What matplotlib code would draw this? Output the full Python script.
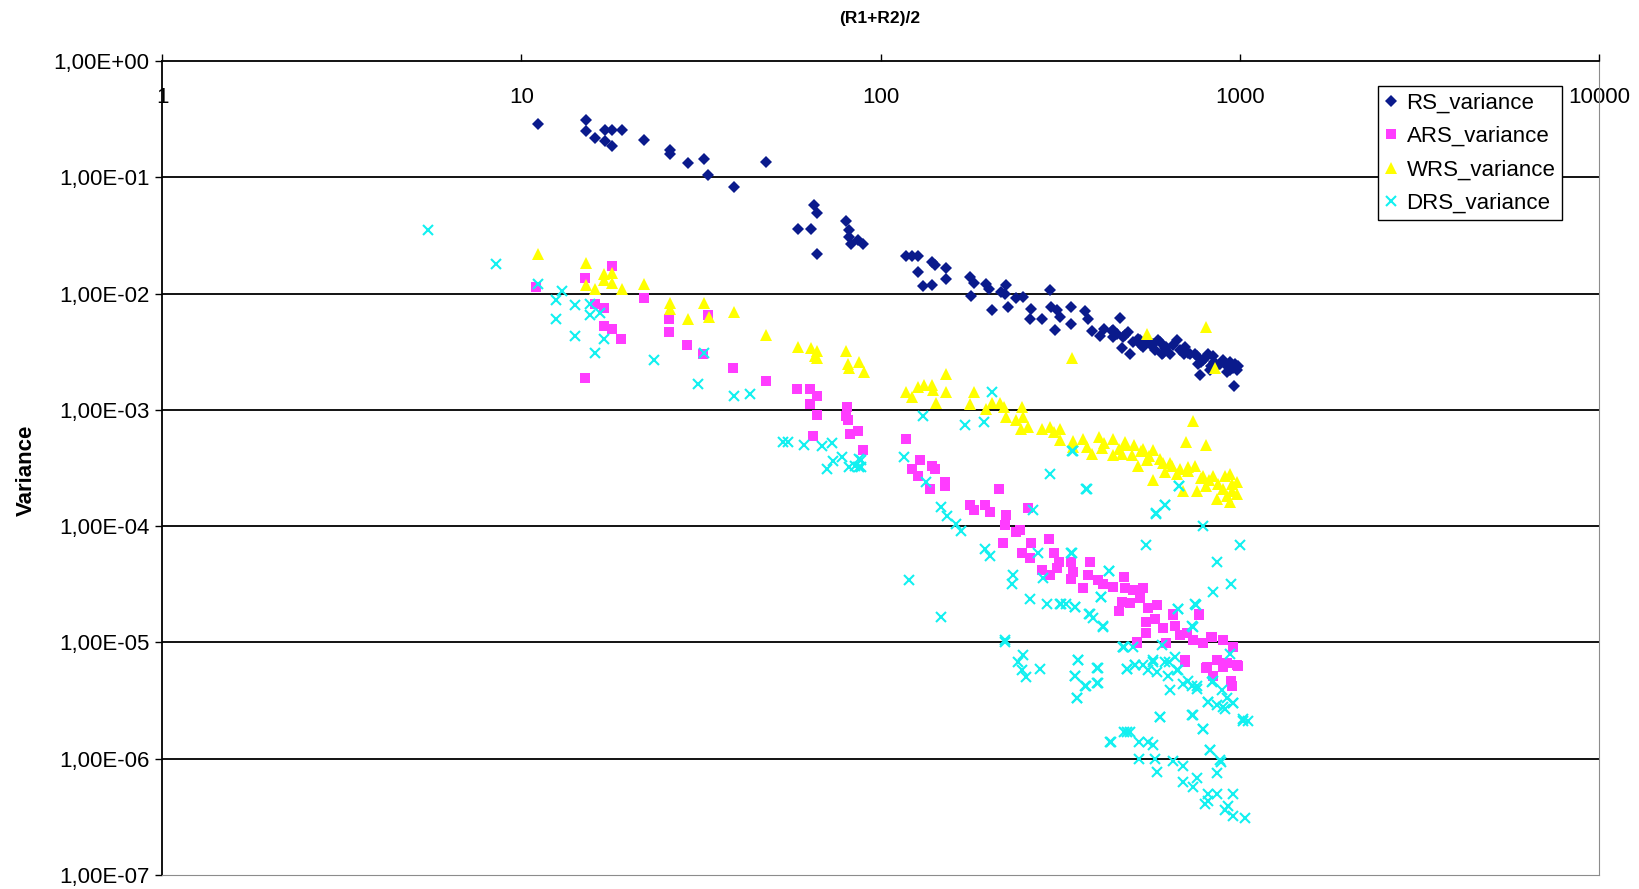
import math
import matplotlib
matplotlib.use("Agg")
import matplotlib.pyplot as plt
from matplotlib.ticker import FixedLocator, FuncFormatter, NullLocator

plt.rcParams['font.family'] = ['Liberation Sans', 'DejaVu Sans']

# ---------------- data ----------------
rs_x = [11.1, 15.1, 15.1, 16.0, 17.1, 17.1, 17.9, 17.9, 19.1, 22, 26, 26, 29.1, 32.2, 33.2,
        39.2, 48, 65.2, 66.6, 59, 64, 66.6, 80, 81.6, 81.6, 82.7, 86.5, 89.5,
        118, 122, 127, 127, 139, 142, 152, 152, 131, 139, 177, 182, 179, 197, 201, 217,
        223, 222, 205, 227, 239, 250, 263, 260, 281, 296, 299, 309, 316, 306, 340, 340,
        371, 379, 387, 408, 445, 445, 464, 474, 490, 469, 494, 505, 528, 539, 562, 581,
        593, 606, 625, 639, 667, 681, 703, 726, 750, 767, 775, 791, 818, 826, 844, 862,
        900, 919, 939, 959, 980, 963, 991,
        455, 480, 520, 550, 575, 600, 620, 650, 690, 720, 760, 800, 850, 880, 920, 940,
        970, 530, 610, 700, 780, 830, 420, 440]
rs_y = [0.29, 0.31, 0.25, 0.218, 0.257, 0.205, 0.257, 0.186, 0.257, 0.21, 0.17, 0.16, 0.133,
        0.145, 0.105, 0.083, 0.136, 0.058, 0.049, 0.036, 0.036, 0.022, 0.042, 0.0355, 0.0307,
        0.0265, 0.0287, 0.0265,
        0.0209, 0.0209, 0.0209, 0.0153, 0.0187, 0.0175, 0.0167, 0.0134, 0.0116, 0.0118,
        0.0139, 0.0124, 0.0095, 0.0122, 0.0110, 0.0103, 0.0118, 0.0099, 0.0072, 0.0077,
        0.0091, 0.0094, 0.0074, 0.0060, 0.0060, 0.0107, 0.0077, 0.0072, 0.0063, 0.0049,
        0.0077, 0.0055, 0.0071, 0.0061, 0.0048, 0.0043, 0.0049, 0.0042, 0.0062, 0.0042,
        0.0047, 0.0034, 0.0030, 0.0038, 0.0040, 0.0035, 0.0037, 0.0033, 0.0040, 0.0030,
        0.0035, 0.0030, 0.0040, 0.0033, 0.0035, 0.0030, 0.0030, 0.0025, 0.0020, 0.0027,
        0.0030, 0.0022, 0.0029, 0.0024, 0.0027, 0.0021, 0.0026, 0.0023, 0.0022, 0.0016,
        0.0024,
        0.0045, 0.0044, 0.0041, 0.0040, 0.0037, 0.0038, 0.0034, 0.0036, 0.0032, 0.0031,
        0.0029, 0.0028, 0.0026, 0.0025, 0.0024, 0.0022, 0.0025, 0.0036, 0.0031, 0.0030,
        0.0026, 0.0024, 0.0050, 0.0048]

ars_x = [11.0, 15.0, 15.0, 17.9, 16.0, 17.0, 17.0, 17.9, 19.0, 22.0, 25.8, 25.8, 28.9, 33.1,
         32.1, 38.9, 47.9, 58.7, 63.8, 66.4, 63.8, 66.4, 65, 80.9, 80, 81.3, 82.2, 86.7, 89.5,
         118, 129, 122, 127, 139, 142, 137, 151, 151, 214, 177, 182, 195, 202, 224, 222,
         239, 244, 219, 262, 258, 295, 247, 261, 304, 313, 309, 281, 296, 340, 343, 340,
         384, 379, 367, 403, 415, 444, 476, 479, 505, 539, 469, 494, 462, 528, 556, 587,
         550, 580, 613, 653, 661, 771, 681, 711, 743, 791, 835, 900, 959, 703, 809, 862,
         919, 980, 516, 550, 625,
         703, 808, 843, 899, 948, 954, 986, 959, 899, 834, 771, 653, 516]
ars_y = [0.0114, 0.0137, 0.00188, 0.0172, 0.0082, 0.0075, 0.0053, 0.0050, 0.0041, 0.0091,
         0.0060, 0.0047, 0.0036, 0.0066, 0.0030, 0.0023, 0.00176, 0.00150, 0.00150, 0.00132,
         0.00113, 0.00090, 0.00060, 0.00106, 0.00089, 0.00081, 0.00062, 0.00066, 0.00045,
         0.00056, 0.00037, 0.00031, 0.00027, 0.00033, 0.00031, 0.00021, 0.00024, 0.00022,
         0.00021, 0.000153, 0.000137, 0.000153, 0.000133, 0.000124, 0.000102, 8.93e-5,
         9.24e-5, 7.19e-5, 7.19e-5, 0.000142, 7.69e-5, 5.90e-5, 5.28e-5, 5.82e-5, 4.94e-5,
         4.33e-5, 4.19e-5, 3.79e-5, 4.94e-5, 4.05e-5, 3.48e-5, 4.94e-5, 3.79e-5, 2.91e-5,
         3.44e-5, 3.18e-5, 3.01e-5, 3.67e-5, 2.91e-5, 2.82e-5, 2.91e-5, 2.24e-5, 2.19e-5,
         1.87e-5, 2.39e-5, 1.96e-5, 2.09e-5, 1.51e-5, 1.58e-5, 1.32e-5, 1.72e-5, 1.38e-5,
         1.72e-5, 1.16e-5, 1.20e-5, 1.05e-5, 9.8e-6, 1.12e-5, 1.05e-5, 9.2e-6, 7.0e-6,
         6.2e-6, 7.0e-6, 6.6e-6, 6.4e-6, 1.01e-5, 1.20e-5, 9.8e-6,
         6.8e-6, 6.0e-6, 5.1e-6, 6.2e-6, 4.7e-6, 4.2e-6, 6.3e-6, 9.2e-6, 1.05e-5, 1.12e-5,
         1.74e-5, 1.74e-5, 9.9e-6]

wrs_x = [11.1, 15.1, 15.1, 16.0, 17.0, 17.9, 17.0, 17.9, 19.1, 22.0, 26.0, 26.0, 29.1, 32.2,
         33.3, 39.2, 48, 59, 64.2, 66.4, 65.8, 66.6, 80.1, 81.3, 81.6, 87.2, 89.9,
         118, 122, 127, 132, 139, 140, 152, 152, 143, 182, 178, 197, 204, 215, 221, 248,
         224, 238, 250, 258, 246, 281, 296, 304, 316, 315, 343, 343, 367, 375, 387, 407,
         414, 445, 445, 479, 469, 507, 500, 522, 539, 551, 575, 575, 613, 619, 646, 667,
         696, 719, 750, 758, 791, 844, 862, 808, 909, 939, 949, 980, 939, 919, 742, 707,
         808, 808, 552, 853, 341,
         480, 530, 560, 600, 640, 680, 720, 780, 820, 870, 900, 950, 980, 460, 420]
wrs_y = [0.0221, 0.0183, 0.0118, 0.0110, 0.0146, 0.0149, 0.0132, 0.0124, 0.0110, 0.0122,
         0.0083, 0.0074, 0.0060, 0.0083, 0.0063, 0.0069, 0.0044, 0.0035, 0.0034, 0.0032,
         0.0029, 0.0028, 0.0032, 0.0025, 0.0023, 0.0026, 0.0021,
         0.00143, 0.00129, 0.00158, 0.00163, 0.00163, 0.00148, 0.00205, 0.00143, 0.00115,
         0.00143, 0.00112, 0.00101, 0.00115, 0.00115, 0.00106, 0.00105, 0.00087, 0.00081,
         0.00086, 0.00071, 0.00069, 0.00069, 0.00071, 0.00065, 0.00069, 0.00055, 0.00054,
         0.00048, 0.00056, 0.00048, 0.00042, 0.00059, 0.00047, 0.00056, 0.00041, 0.00053,
         0.00042, 0.00050, 0.00041, 0.00033, 0.00046, 0.00037, 0.00045, 0.00025, 0.00035,
         0.00029, 0.00033, 0.00028, 0.00020, 0.00032, 0.00033, 0.00020, 0.00027, 0.00027,
         0.00017, 0.00022, 0.00027, 0.00028, 0.00023, 0.00024, 0.00016, 0.00018, 0.00080,
         0.00053, 0.00050, 0.0052, 0.0045, 0.0023, 0.0028,
         0.00050, 0.00044, 0.00040, 0.00038, 0.00035, 0.00031, 0.00030, 0.00026, 0.00025,
         0.00023, 0.00021, 0.00020, 0.00019, 0.00046, 0.00052]

drs_x = [5.5, 8.5, 11.1, 13.0, 12.5, 12.5, 14.1, 14.1, 15.5, 15.5, 16.6, 17.0, 16.0, 23.4,
         32.3, 31.0, 39.2, 43.4, 53.4, 55.1, 61.4, 68.6, 73.1, 78.0, 73.9, 70.9, 81.9, 87.3,
         88.5,
         205, 131, 172, 194, 343, 297, 375, 116, 87, 85, 88, 134, 147, 153, 162, 167, 195,
         202, 266, 275, 284, 234, 233, 261, 290, 317, 328, 347, 340, 410, 381, 391, 415,
         433, 548, 584, 619, 679, 791, 1000, 862, 843, 944, 755, 674, 739, 120, 147, 222,
         474, 505,
         222, 250, 242, 247, 254, 278, 355, 348, 371, 352, 401, 401, 476, 484, 510, 539,
         556, 574, 587, 606, 637, 633, 639, 661, 675, 697, 735, 759, 743, 791, 818, 862,
         910, 919, 959, 835, 890, 940, 1024, 1056, 600, 437, 476, 494, 525, 556, 574, 525,
         580, 589, 650, 696, 696, 759, 743, 826, 885, 862, 818, 801, 818, 862, 955, 929,
         910, 955, 1032,
         374, 678, 583, 618, 342, 341, 433, 410, 750, 671, 738, 315, 347, 383, 415, 474,
         510, 486, 574, 618, 667, 718, 758, 843, 817, 899, 959, 355, 347, 404, 404, 352,
         373, 600, 738, 791, 1023, 435, 484, 826, 881]
drs_y = [0.035, 0.0181, 0.0120, 0.0105, 0.0088, 0.0061, 0.0079, 0.0043, 0.0082, 0.0066,
         0.0068, 0.0041, 0.0031, 0.0027, 0.0031, 0.00168, 0.00131, 0.00138, 0.00053, 0.00053,
         0.00050, 0.00049, 0.00052, 0.00039, 0.00036, 0.00031, 0.00032, 0.00032, 0.00037,
         0.00143, 0.00088, 0.00074, 0.00079, 0.00044, 0.00028, 0.00021, 0.00039, 0.00038,
         0.00033, 0.00032, 0.00024, 0.000147, 0.000122, 0.000104, 9.12e-5, 6.31e-5, 5.52e-5,
         0.000137, 5.82e-5, 3.55e-5, 3.79e-5, 3.18e-5, 2.34e-5, 2.14e-5, 2.14e-5, 2.14e-5,
         2.00e-5, 5.82e-5, 2.47e-5, 1.77e-5, 1.61e-5, 1.36e-5, 4.13e-5, 6.87e-5, 0.000129,
         0.000152, 0.000221, 0.000101, 6.87e-5, 4.94e-5, 2.73e-5, 3.21e-5, 2.09e-5, 1.92e-5,
         1.35e-5, 3.44e-5, 1.64e-5, 1.04e-5, 9.2e-6, 9.2e-6,
         1.01e-5, 7.8e-6, 6.8e-6, 5.8e-6, 5.0e-6, 5.9e-6, 7.0e-6, 5.1e-6, 4.2e-6, 3.3e-6,
         6.0e-6, 4.5e-6, 9.2e-6, 5.9e-6, 6.4e-6, 6.4e-6, 5.8e-6, 7.0e-6, 5.6e-6, 9.5e-6,
         6.8e-6, 5.1e-6, 3.9e-6, 7.5e-6, 5.8e-6, 4.4e-6, 4.2e-6, 4.0e-6, 2.4e-6, 1.8e-6,
         3.1e-6, 2.9e-6, 2.7e-6, 3.3e-6, 3.0e-6, 4.6e-6, 3.9e-6, 8.0e-6, 2.1e-6, 2.1e-6,
         2.3e-6, 1.4e-6, 1.7e-6, 1.7e-6, 1.4e-6, 1.4e-6, 1.3e-6, 1.0e-6, 1.0e-6, 7.7e-7,
         9.6e-7, 8.6e-7, 6.3e-7, 6.8e-7, 5.7e-7, 1.2e-6, 9.4e-7, 7.5e-7, 5.0e-7, 4.1e-7,
         4.3e-7, 5.0e-7, 5.0e-7, 3.9e-7, 3.6e-7, 3.2e-7, 3.1e-7,
         0.00021, 0.00022, 0.000128, 0.000151, 0.00044, 5.82e-5, 4.13e-5, 2.47e-5, 2.13e-5,
         1.93e-5, 1.38e-5, 2.13e-5, 2.0e-5, 1.77e-5, 1.38e-5, 9.2e-6, 6.4e-6, 5.9e-6, 6.8e-6,
         6.8e-6, 5.8e-6, 4.7e-6, 4.2e-6, 4.7e-6, 3.1e-6, 2.8e-6, 3.0e-6, 7.0e-6, 5.1e-6,
         6.0e-6, 4.5e-6, 3.3e-6, 4.2e-6, 2.3e-6, 2.4e-6, 1.8e-6, 2.2e-6, 1.4e-6, 1.7e-6,
         1.2e-6, 9.7e-7]

series_names = ["RS_variance", "ARS_variance", "WRS_variance", "DRS_variance"]
x_tick_values = [1, 10, 100, 1000, 10000]
x_tick_labels = ["1", "10", "100", "1000", "10000"]
y_exponents = [0, -1, -2, -3, -4, -5, -6, -7]

# ---------------- figure ----------------
W, H = 1639, 889
fig = plt.figure(figsize=(W / 100, H / 100), dpi=100)
ax = fig.add_axes([162 / W, 1 - 875 / H, (1599 - 162) / W, (875 - 61) / H])

ax.set_xscale('log')
ax.set_yscale('log')
ax.set_xlim(1, 10000)
ax.set_ylim(1e-7, 1)

# gridlines
for e in y_exponents[1:-1]:
    ax.axhline(10.0 ** e, color='black', lw=1.3, zorder=1)

ax.plot(rs_x, rs_y, linestyle='none', marker='D', markersize=6.2, color='#0A1A8C',
        markeredgewidth=0, label=series_names[0], zorder=3)
ax.plot(ars_x, ars_y, linestyle='none', marker='s', markersize=7, color='#FF3CFF',
        markeredgewidth=0, label=series_names[1], zorder=3)
ax.plot(wrs_x, wrs_y, linestyle='none', marker='^', markersize=8.5, color='#FFFF00',
        markeredgewidth=0, label=series_names[2], zorder=3)
ax.plot(drs_x, drs_y, linestyle='none', marker='x', markersize=7.6, color='#12F0F0',
        markeredgewidth=1.5, label=series_names[3], zorder=3)

# spines
ax.spines['left'].set_color('black')
ax.spines['top'].set_color('black')
ax.spines['left'].set_linewidth(1.3)
ax.spines['top'].set_linewidth(1.3)
ax.spines['right'].set_color('#8c8c8c')
ax.spines['bottom'].set_color('#8c8c8c')

# x axis at top, labels just below the line
ax.xaxis.set_major_locator(FixedLocator(x_tick_values))
ax.xaxis.set_minor_locator(NullLocator())
ax.set_xticklabels(x_tick_labels)
ax.tick_params(axis='x', which='both', top=True, bottom=False, labeltop=True,
               labelbottom=False, direction='out', length=5, width=1, pad=-39,
               labelsize=16, colors='black')

# y axis
ax.yaxis.set_major_locator(FixedLocator([10.0 ** e for e in y_exponents]))
ax.yaxis.set_minor_locator(NullLocator())
ax.yaxis.set_major_formatter(FuncFormatter(
    lambda v, p: "1,00E{:+03d}".format(int(round(math.log10(v))))))
ax.tick_params(axis='y', which='both', direction='out', length=5, width=1, pad=4,
               labelsize=16)

fig.text(880 / W, 1 - 19 / H, "(R1+R2)/2", ha='center', va='center',
         fontsize=12.5, fontweight='bold')
fig.text(26 / W, 1 - 470 / H, "Variance", ha='center', va='center', rotation=90,
         fontsize=16, fontweight='bold')

leg = ax.legend(loc='upper left', bbox_to_anchor=(0.846, 0.969), borderaxespad=0,
                fancybox=False, edgecolor='black', framealpha=1, fontsize=16,
                labelspacing=0.55, handlelength=0.6, handletextpad=0.4,
                borderpad=0.3, markerscale=0.95)
leg.get_frame().set_linewidth(1.0)

fig.savefig('out.png', dpi=100)
